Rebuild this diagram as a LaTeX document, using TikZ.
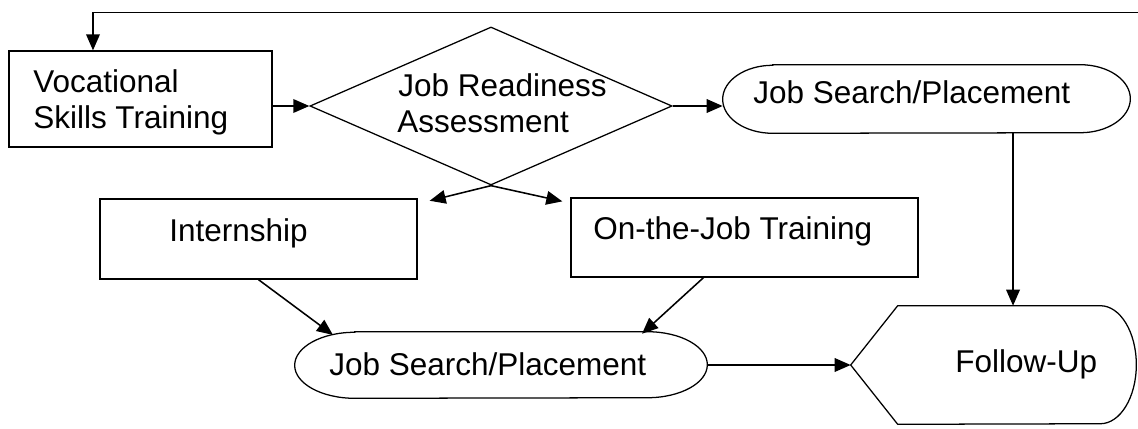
\documentclass[tikz,border=0pt]{standalone}
\usepackage{fontspec}
\setmainfont{Liberation Sans}
\usetikzlibrary{arrows.meta,shapes.geometric}
\def\stadium[#1](#2)(#3:#4){\draw[#1] ([xshift=#3]#2.north west) -- ([xshift=-#3]#2.north east) arc[start angle=90, end angle=-90, x radius=#3, y radius=#4] -- ([xshift=#3]#2.south west) arc[start angle=270, end angle=90, x radius=#3, y radius=#4] -- cycle;}
\tikzset{
  box/.style={draw, line width=0.9pt, inner sep=0pt},
  blank/.style={inner sep=0pt},
  lbl/.style={inner sep=0pt, anchor=base west, font=\fontsize{22.4}{26}\selectfont},
  arr/.style={line width=1.1pt, -{Triangle[length=0.4cm, width=0.34cm]}}
}
\begin{document}
\begin{tikzpicture}[x=0.025cm, y=-0.025cm]
			%%%%% START %%%%%
			\useasboundingbox (0, 0) rectangle (1138, 428);
			
			\node[box, minimum width=6.575cm, minimum height=2.4cm] (voc) at (140.5, 99) {};
			\node[lbl] (voctxta) at (33, 92) {Vocational};
			\node[lbl] (voctxtb) at (33, 128) {Skills Training};
			
			\node[box, diamond, minimum width=9.05cm, minimum height=3.95cm] (jra) at (491, 106) {};
			\node[lbl] (jratxta) at (398, 96) {Job Readiness};
			\node[lbl] (jratxtb) at (397, 132) {Assessment};
			
			\node[blank, minimum width=10.175cm, minimum height=1.7cm] (jsptop) at (926.5, 99) {};
			\stadium[line width=0.9pt](jsptop)(1.25cm:0.85cm)
			\node[lbl] (jsptoptxt) at (753, 103) {Job Search/Placement};
			
			\node[box, minimum width=7.925cm, minimum height=2cm] (intern) at (258.5, 239) {};
			\node[lbl] (interntxt) at (169, 241) {Internship};
			
			\node[box, minimum width=8.675cm, minimum height=1.975cm] (ojt) at (744.5, 237.5) {};
			\node[lbl] (ojttxt) at (593, 239) {On-the-Job Training};
			
			\node[blank, minimum width=10.3cm, minimum height=1.65cm] (jspbot) at (501, 365) {};
			\stadium[line width=0.9pt](jspbot)(1.5cm:0.825cm)
			\node[lbl] (jspbottxt) at (329, 375) {Job Search/Placement};
			
			\node[blank, minimum width=7.125cm, minimum height=2.95cm] (fup) at (993.5, 365) {};
			\draw[line width=0.9pt] (fup.west) -- ([xshift=1.175cm]fup.north west) -- ([xshift=-0.9cm]fup.north east) arc[start angle=90, end angle=-90, x radius=0.9cm, y radius=1.475cm] -- ([xshift=1.175cm]fup.south west) -- cycle;
			\node[lbl] (fuptxt) at (955, 372) {Follow-Up};
			
			% connectors
			\coordinate (back) at (1138, 12.5);
			\draw[arr] (back) -- ([xshift=-1.1875cm]voc.north |- back) -- ([xshift=-1.1875cm]voc.north);
			\draw[arr] (voc.east |- jra.west) -- (jra.west);
			\draw[arr] (jra.east) -- (jra.east -| jsptop.west);
			\draw[arr] (jra.south) -- ([xshift=0.3cm, yshift=-0.06cm]intern.north east);
			\draw[arr] (jra.south) -- ([xshift=-0.2cm, yshift=-0.1cm]ojt.north west);
			\draw[arr] ([xshift=2.1625cm]jsptop.south) -- ([xshift=2.1625cm]jsptop.south |- fup.north);
			\draw[arr] (intern.south) -- ([xshift=-4.2cm, yshift=-0.08cm]jspbot.north);
			\draw[arr] ([xshift=-1.025cm]ojt.south) -- ([xshift=3.525cm, yshift=-0.05cm]jspbot.north);
			\draw[arr] (jspbot.east) -- (fup.west);
			
			%%%%% END %%%%%
		\end{tikzpicture}
\end{document}
